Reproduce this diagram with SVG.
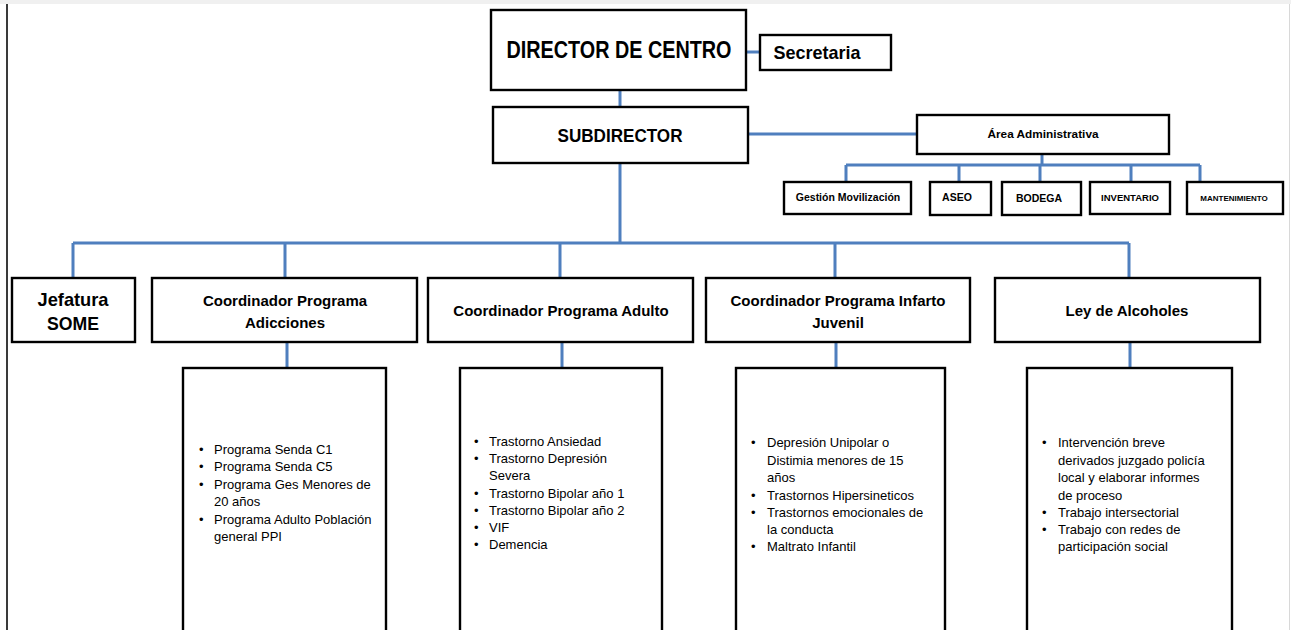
<svg xmlns="http://www.w3.org/2000/svg" width="1291" height="630" viewBox="0 0 1291 630">
  <style>
    .box { fill: #ffffff; stroke: #000000; stroke-width: 2.4; }
    .link { fill: none; stroke: #4f7fbe; stroke-width: 3; stroke-linejoin: miter; }
    .h { font-family: "Liberation Sans", Arial, sans-serif; font-weight: bold; fill: #000000; text-anchor: middle; }
    .t { font-family: "Liberation Sans", Arial, sans-serif; font-size: 13px; fill: #000000; }
  </style>

  <!-- page frame -->
  <rect x="0" y="0" width="1291" height="630" fill="#ffffff"/>
  <rect x="0" y="0" width="1291" height="4" fill="#f0f0f0"/>
  <line x1="7" y1="4" x2="7" y2="630" stroke="#3a3a3a" stroke-width="2"/>
  <line x1="1289.5" y1="4" x2="1289.5" y2="630" stroke="#d8d8d8" stroke-width="1"/>

  <!-- connectors -->
  <g id="connectors" class="link">
    <path d="M746 52 H760"/>
    <path d="M620 90 V107"/>
    <path d="M748 134 H917"/>
    <path d="M1042 154 V165"/>
    <path d="M846 165 H1200 M846 165 V182 M959 165 V182 M1040 165 V182 M1131 165 V182 M1200 165 V182"/>
    <path d="M620 163 V243"/>
    <path d="M73 243 H1129 M73 243 V278 M285 243 V278 M560 243 V278 M835 243 V278 M1129 243 V278"/>
    <path d="M287 342 V368 M562 342 V368 M836 342 V368 M1130 342 V368"/>
  </g>

  <!-- top management -->
  <g id="director">
    <rect class="box" x="491" y="10" width="255" height="80"/>
    <text class="h" x="619" y="58" font-size="23" textLength="225" lengthAdjust="spacingAndGlyphs">DIRECTOR DE CENTRO</text>
  </g>
  <g id="secretaria">
    <rect class="box" x="760" y="35" width="131" height="35"/>
    <text class="h" x="817" y="59" font-size="19" textLength="87" lengthAdjust="spacingAndGlyphs">Secretaria</text>
  </g>
  <g id="subdirector">
    <rect class="box" x="493" y="107" width="255" height="56"/>
    <text class="h" x="620" y="142" font-size="18" textLength="125" lengthAdjust="spacingAndGlyphs">SUBDIRECTOR</text>
  </g>

  <!-- administrative area -->
  <g id="area-administrativa">
    <rect class="box" x="917" y="115" width="252" height="39"/>
    <text class="h" x="1043" y="138" font-size="11.8">Área Administrativa</text>
  </g>
  <g id="gestion-movilizacion">
    <rect class="box" x="784" y="182" width="127" height="32"/>
    <text class="h" x="848" y="201" font-size="10.5">Gestión Movilización</text>
  </g>
  <g id="aseo">
    <rect class="box" x="930" y="182" width="61" height="33"/>
    <text class="h" x="957" y="201" font-size="10.5">ASEO</text>
  </g>
  <g id="bodega">
    <rect class="box" x="1002" y="182" width="79" height="33"/>
    <text class="h" x="1039" y="202" font-size="10.5">BODEGA</text>
  </g>
  <g id="inventario">
    <rect class="box" x="1090" y="182" width="80" height="32"/>
    <text class="h" x="1130" y="201" font-size="9.5">INVENTARIO</text>
  </g>
  <g id="mantenimiento">
    <rect class="box" x="1187" y="182" width="96" height="32"/>
    <text class="h" x="1234" y="201" font-size="8">MANTENIMIENTO</text>
  </g>

  <!-- program heads -->
  <g id="jefatura-some">
    <rect class="box" x="12" y="278" width="123" height="64"/>
    <text class="h" x="73" y="306" font-size="19" textLength="71" lengthAdjust="spacingAndGlyphs">Jefatura</text>
    <text class="h" x="73" y="330" font-size="19" textLength="52" lengthAdjust="spacingAndGlyphs">SOME</text>
  </g>
  <g id="coord-adicciones">
    <rect class="box" x="152" y="278" width="265" height="64"/>
    <text class="h" x="285" y="306" font-size="15">Coordinador Programa</text>
    <text class="h" x="285" y="328" font-size="15">Adicciones</text>
  </g>
  <g id="coord-adulto">
    <rect class="box" x="428" y="278" width="265" height="64"/>
    <text class="h" x="561" y="316" font-size="15">Coordinador Programa Adulto</text>
  </g>
  <g id="coord-infanto-juvenil">
    <rect class="box" x="706" y="278" width="264" height="64"/>
    <text class="h" x="838" y="306" font-size="15">Coordinador Programa Infarto</text>
    <text class="h" x="838" y="328" font-size="15">Juvenil</text>
  </g>
  <g id="ley-alcoholes">
    <rect class="box" x="995" y="278" width="265" height="64"/>
    <text class="h" x="1127" y="316" font-size="15">Ley de Alcoholes</text>
  </g>

  <!-- program details -->
  <g id="detalle-adicciones">
    <rect class="box" x="183" y="368" width="203" height="270"/>
    <text class="t" x="199" y="454">•</text>
    <text class="t" x="214" y="454">Programa Senda C1</text>
    <text class="t" x="199" y="471">•</text>
    <text class="t" x="214" y="471">Programa Senda C5</text>
    <text class="t" x="199" y="489">•</text>
    <text class="t" x="214" y="489">Programa Ges Menores de</text>
    <text class="t" x="214" y="506">20 años</text>
    <text class="t" x="199" y="524">•</text>
    <text class="t" x="214" y="524">Programa Adulto Población</text>
    <text class="t" x="214" y="541">general PPI</text>
  </g>
  <g id="detalle-adulto">
    <rect class="box" x="460" y="368" width="202" height="270"/>
    <text class="t" x="474" y="446">•</text>
    <text class="t" x="489" y="446">Trastorno Ansiedad</text>
    <text class="t" x="474" y="463">•</text>
    <text class="t" x="489" y="463">Trastorno Depresión</text>
    <text class="t" x="489" y="480">Severa</text>
    <text class="t" x="474" y="498">•</text>
    <text class="t" x="489" y="498">Trastorno Bipolar año 1</text>
    <text class="t" x="474" y="515">•</text>
    <text class="t" x="489" y="515">Trastorno Bipolar año 2</text>
    <text class="t" x="474" y="532">•</text>
    <text class="t" x="489" y="532">VIF</text>
    <text class="t" x="474" y="549">•</text>
    <text class="t" x="489" y="549">Demencia</text>
  </g>
  <g id="detalle-infanto-juvenil">
    <rect class="box" x="736" y="368" width="209" height="270"/>
    <text class="t" x="751" y="447">•</text>
    <text class="t" x="767" y="447">Depresión Unipolar o</text>
    <text class="t" x="767" y="465">Distimia menores de 15</text>
    <text class="t" x="767" y="482">años</text>
    <text class="t" x="751" y="500">•</text>
    <text class="t" x="767" y="500">Trastornos Hipersineticos</text>
    <text class="t" x="751" y="517">•</text>
    <text class="t" x="767" y="517">Trastornos emocionales de</text>
    <text class="t" x="767" y="534">la conducta</text>
    <text class="t" x="751" y="551">•</text>
    <text class="t" x="767" y="551">Maltrato Infantil</text>
  </g>
  <g id="detalle-ley-alcoholes">
    <rect class="box" x="1027" y="368" width="205" height="270"/>
    <text class="t" x="1042" y="447">•</text>
    <text class="t" x="1058" y="447">Intervención breve</text>
    <text class="t" x="1058" y="465">derivados juzgado policía</text>
    <text class="t" x="1058" y="482">local y elaborar informes</text>
    <text class="t" x="1058" y="500">de proceso</text>
    <text class="t" x="1042" y="517">•</text>
    <text class="t" x="1058" y="517">Trabajo intersectorial</text>
    <text class="t" x="1042" y="534">•</text>
    <text class="t" x="1058" y="534">Trabajo con redes de</text>
    <text class="t" x="1058" y="551">participación social</text>
  </g>
</svg>
